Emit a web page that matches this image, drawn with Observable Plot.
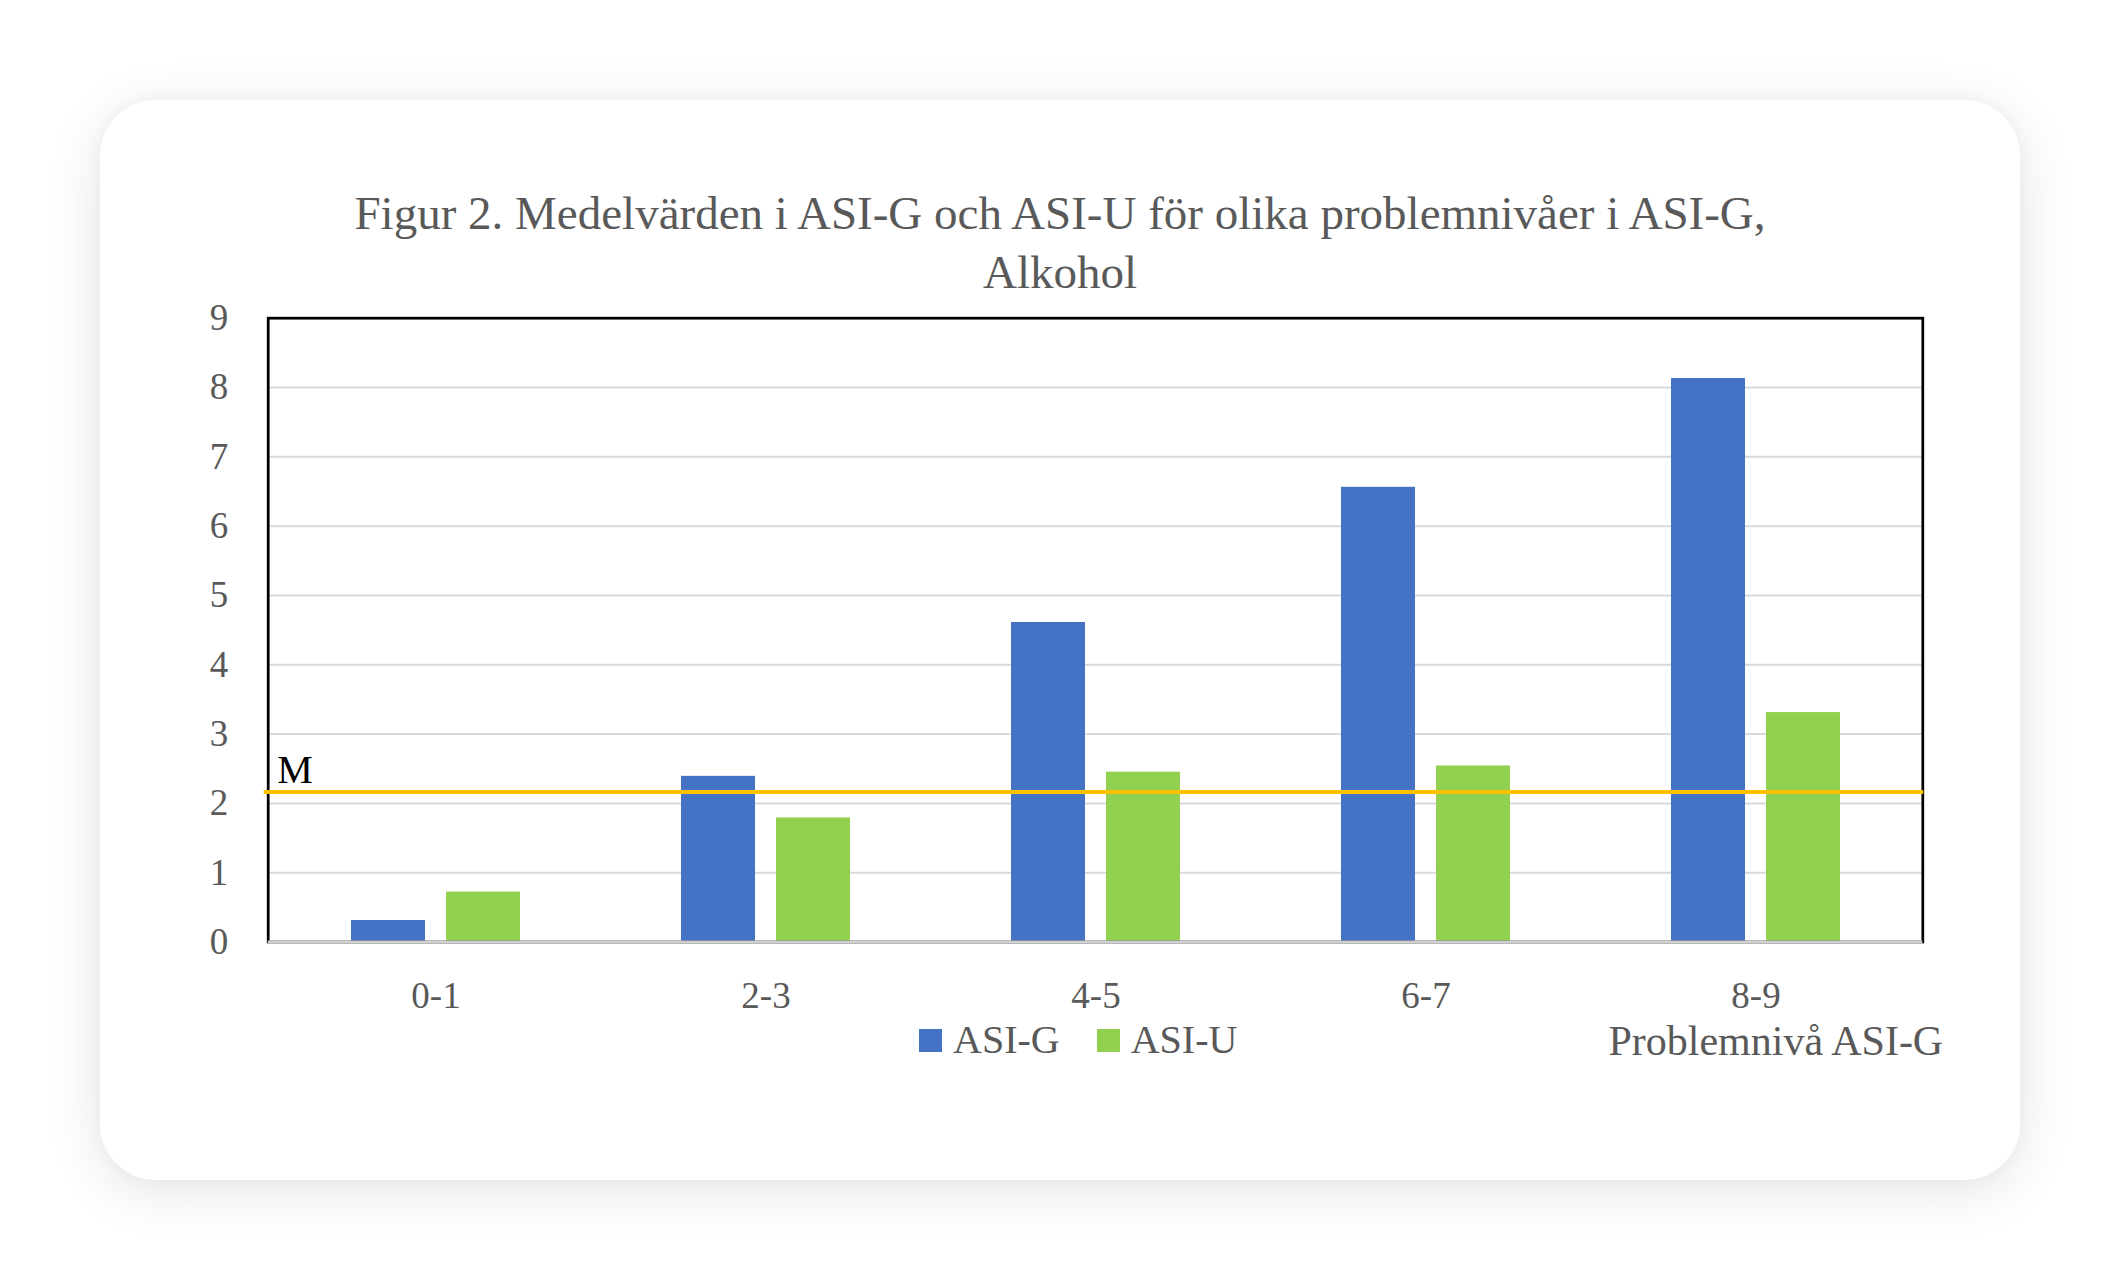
<!DOCTYPE html>
<html lang="sv">
<head>
<meta charset="utf-8">
<script src="https://cdn.jsdelivr.net/npm/d3@7"></script>
<script src="https://cdn.jsdelivr.net/npm/@observablehq/plot@0.6"></script>
<style>
  html, body { margin: 0; padding: 0; background: #ffffff; }
  body { width: 2120px; height: 1280px; position: relative; overflow: hidden; font-family: "Liberation Serif", "Times New Roman", serif; }
  .card {
    position: absolute; left: 100px; top: 100px; width: 1920px; height: 1080px;
    background: #ffffff; border-radius: 56px;
    box-shadow: 0 10px 55px rgba(0,0,0,0.11), 0 0 18px rgba(0,0,0,0.03);
  }
  .title {
    position: absolute; left: 0; top: 83.5px; width: 1920px; text-align: center;
    font-size: 47px; line-height: 59px; color: #595959;
  }
  #chart { position: absolute; left: 0; top: 200px; }
  .legend {
    position: absolute; left: 819px; top: 920px; display: flex; align-items: center;
    font-size: 40px; line-height: 1; color: #595959;
  }
  .legend .item { display: flex; align-items: center; margin-right: 37px; }
  .legend .sw { width: 23px; height: 23px; margin-right: 11px; }
</style>
</head>
<body>
<div class="card">
  <div class="title" id="title"></div>
  <div id="chart"></div>
  <div class="legend" id="legend"></div>
</div>
<script>
// Mean scores per ASI-G problem level (alcohol)
const titleLines = ["Figur 2. Medelvärden i ASI-G och ASI-U för olika problemnivåer i ASI-G,", "Alkohol"];
const categories = ["0-1", "2-3", "4-5", "6-7", "8-9"];
const seriesNames = ["ASI-G", "ASI-U"];
const seriesColors = ["#4472C4", "#92D050"];
const asiG = [0.31, 2.39, 4.61, 6.56, 8.13];
const asiU = [0.72, 1.79, 2.45, 2.54, 3.31];
const yTicks = [0, 1, 2, 3, 4, 5, 6, 7, 8, 9];
const meanLabel = "M";
const meanValue = 2.165;
const xTitle = "Problemnivå ASI-G";

const rows = categories.flatMap((c, i) => [
  {level: c, series: seriesNames[0], value: asiG[i]},
  {level: c, series: seriesNames[1], value: asiU[i]}
]);

// Title
document.getElementById("title").innerHTML = titleLines.join("<br>");

// Legend
const legend = document.getElementById("legend");
seriesNames.forEach((name, i) => {
  const item = document.createElement("div");
  item.className = "item";
  const sw = document.createElement("span");
  sw.className = "sw";
  sw.style.background = seriesColors[i];
  const label = document.createElement("span");
  label.textContent = name;
  item.append(sw, label);
  legend.append(item);
});

const barInset = 95; // each bar takes the rest of the group band
const textColor = "#595959";

const chart = Plot.plot({
  width: 1920,
  height: 770,
  marginLeft: 167.7,
  marginRight: 97.7,
  marginTop: 17.7,
  marginBottom: 128.5,
  style: {
    fontFamily: "'Liberation Serif', 'Times New Roman', serif",
    fontSize: "37px",
    color: textColor,
    background: "transparent",
    overflow: "visible"
  },
  x: {domain: categories, paddingInner: 0.489, paddingOuter: 0.2445, align: 0.5},
  y: {domain: [0, 9]},
  color: {domain: seriesNames, range: seriesColors},
  marks: [
    Plot.gridY(yTicks.filter(t => t > 0 && t < 9), {stroke: "#d9d9d9", strokeOpacity: 1, strokeWidth: 2}),
    Plot.barY(rows.filter(d => d.series === seriesNames[0]), {x: "level", y: "value", fill: "series", insetRight: barInset}),
    Plot.barY(rows.filter(d => d.series === seriesNames[1]), {x: "level", y: "value", fill: "series", insetLeft: barInset}),
    Plot.frame({stroke: "#000000", strokeWidth: 2.75}),
    Plot.ruleY([0], {stroke: "#d0d0d0", strokeWidth: 3.2}),
    Plot.ruleY([meanValue], {stroke: "#FFC000", strokeWidth: 4, insetLeft: -4, insetRight: -1}),
    Plot.text([{label: meanLabel, value: meanValue}], {
      frameAnchor: "left", y: "value", text: "label", textAnchor: "start", lineAnchor: "bottom",
      dx: 9, dy: -8.5, fontSize: 40, fill: "#000000"
    }),
    Plot.axisY({ticks: yTicks, tickSize: 0, tickPadding: 40, fontSize: 37, label: null, fill: textColor}),
    Plot.axisX({tickSize: 0, tickPadding: 40, fontSize: 37, label: null, fill: textColor}),
    Plot.text([xTitle], {
      frameAnchor: "bottom-right", textAnchor: "middle", lineAnchor: "bottom",
      dx: -147, dy: 112.5, fontSize: 42, fill: textColor
    })
  ]
});

document.getElementById("chart").append(chart);
</script>
</body>
</html>
